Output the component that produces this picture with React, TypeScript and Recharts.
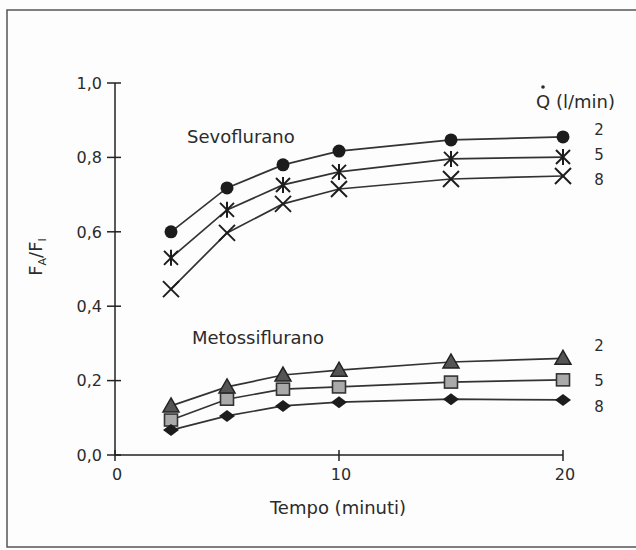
import React from "react";
import { LineChart, Line, XAxis, YAxis } from "recharts";

const times = [2.5, 5, 7.5, 10, 15, 20];
const sevo2 = [0.6, 0.718, 0.78, 0.817, 0.847, 0.855];
const sevo5 = [0.53, 0.659, 0.726, 0.761, 0.796, 0.801];
const sevo8 = [0.446, 0.597, 0.675, 0.715, 0.742, 0.75];
const meto2 = [0.132, 0.183, 0.215, 0.228, 0.25, 0.26];
const meto5 = [0.094, 0.15, 0.177, 0.183, 0.196, 0.202];
const meto8 = [0.067, 0.105, 0.132, 0.142, 0.15, 0.148];
const xTicks = [0, 10, 20];
const yTicks = [0, 0.2, 0.4, 0.6, 0.8, 1.0];
const flowLabels = ["2", "5", "8"];

const data = times.map((t, i) => ({
  t,
  s2: sevo2[i],
  s5: sevo5[i],
  s8: sevo8[i],
  m2: meto2[i],
  m5: meto5[i],
  m8: meto8[i],
}));

const FONT = "'DejaVu Sans', 'Liberation Sans', Arial, sans-serif";
const INK = "#2b2b2b";
const LINE = "#333";

const CircleDot = (p: any) => (
  <circle key={p.index} cx={p.cx} cy={p.cy} r={6.5} fill="#1c1c1c" />
);
const StarDot = (p: any) => {
  const s = 7;
  return (
    <g key={p.index} stroke="#1c1c1c" strokeWidth={2}>
      <line x1={p.cx - s} y1={p.cy - s} x2={p.cx + s} y2={p.cy + s} />
      <line x1={p.cx - s} y1={p.cy + s} x2={p.cx + s} y2={p.cy - s} />
      <line x1={p.cx} y1={p.cy - s - 1} x2={p.cx} y2={p.cy + s + 1} />
    </g>
  );
};
const CrossDot = (p: any) => {
  const s = 8;
  return (
    <g key={p.index} stroke="#1c1c1c" strokeWidth={2}>
      <line x1={p.cx - s} y1={p.cy - s} x2={p.cx + s} y2={p.cy + s} />
      <line x1={p.cx - s} y1={p.cy + s} x2={p.cx + s} y2={p.cy - s} />
    </g>
  );
};
const TriDot = (p: any) => {
  const w = 8;
  return (
    <polygon
      key={p.index}
      points={`${p.cx},${p.cy - 8} ${p.cx + w},${p.cy + 6} ${p.cx - w},${p.cy + 6}`}
      fill="#555"
      stroke="#222"
      strokeWidth={1.5}
    />
  );
};
const SquareDot = (p: any) => (
  <rect
    key={p.index}
    x={p.cx - 6.5}
    y={p.cy - 6}
    width={13}
    height={12}
    fill="#aaa"
    stroke="#333"
    strokeWidth={1.6}
  />
);
const DiamondDot = (p: any) => (
  <polygon
    key={p.index}
    points={`${p.cx},${p.cy - 6} ${p.cx + 8},${p.cy} ${p.cx},${p.cy + 6} ${p.cx - 8},${p.cy}`}
    fill="#1c1c1c"
  />
);

const YTick = (p: any) => {
  const { x, y, payload } = p;
  return (
    <g>
      <line x1={x - 8} y1={y} x2={x + 6} y2={y} stroke="#222" strokeWidth={1.5} />
      <text
        x={x - 13}
        y={y}
        dy="0.36em"
        textAnchor="end"
        fontFamily={FONT}
        fontSize={16}
        fill={INK}
      >
        {payload.value.toFixed(1).replace(".", ",")}
      </text>
    </g>
  );
};

const XTick = (p: any) => {
  const { x, y, payload } = p;
  return (
    <g>
      <line x1={x} y1={y - 5} x2={x} y2={y + 6} stroke="#222" strokeWidth={1.5} />
      <text
        x={x + 2}
        y={y + 25}
        textAnchor="middle"
        fontFamily={FONT}
        fontSize={16}
        fill={INK}
      >
        {String(payload.value)}
      </text>
    </g>
  );
};

export default function App() {
  const lineProps = {
    type: "linear" as const,
    stroke: LINE,
    strokeWidth: 1.7,
    isAnimationActive: false,
    activeDot: false as const,
  };
  return (
    <div
      style={{
        position: "absolute",
        left: 0,
        top: 0,
        width: 636,
        height: 550,
        background: "#fdfdfd",
      }}
    >
      <LineChart
        width={636}
        height={550}
        data={data}
        margin={{ top: 83, right: 73, bottom: 65, left: 55 }}
        style={{ overflow: "visible" }}
      >
        <XAxis
          dataKey="t"
          type="number"
          domain={[0, 20]}
          ticks={xTicks}
          height={30}
          tickSize={0}
          tickMargin={0}
          tickLine={false}
          axisLine={{ stroke: "#222", strokeWidth: 1.5 }}
          tick={XTick}
          interval={0}
        />
        <YAxis
          type="number"
          domain={[0, 1]}
          ticks={yTicks}
          width={60}
          tickSize={0}
          tickMargin={0}
          tickLine={false}
          axisLine={{ stroke: "#222", strokeWidth: 1.5 }}
          tick={YTick}
          interval={0}
        />
        <Line dataKey="s2" {...lineProps} dot={CircleDot} />
        <Line dataKey="s5" {...lineProps} dot={StarDot} />
        <Line dataKey="s8" {...lineProps} dot={CrossDot} />
        <Line dataKey="m2" {...lineProps} dot={TriDot} />
        <Line dataKey="m5" {...lineProps} dot={SquareDot} />
        <Line dataKey="m8" {...lineProps} dot={DiamondDot} />
      </LineChart>
      <svg
        width={636}
        height={550}
        style={{ position: "absolute", left: 0, top: 0, pointerEvents: "none" }}
      >
        <rect x={7} y={10} width={660} height={537} fill="none" stroke="#555" strokeWidth={1.5} />
        <g fontFamily={FONT} fill={INK}>
          <text x={187} y={143} fontSize={18}>Sevoflurano</text>
          <text x={192} y={344} fontSize={18}>Metossiflurano</text>
          <text x={536} y={108} fontSize={18}>Q (l/min)</text>
          <circle cx={543} cy={87} r={1.8} fill={INK} />
          <text x={599} y={135} fontSize={15} textAnchor="middle">{flowLabels[0]}</text>
          <text x={599} y={160} fontSize={15} textAnchor="middle">{flowLabels[1]}</text>
          <text x={599} y={185} fontSize={15} textAnchor="middle">{flowLabels[2]}</text>
          <text x={599} y={351} fontSize={15} textAnchor="middle">{flowLabels[0]}</text>
          <text x={599} y={386} fontSize={15} textAnchor="middle">{flowLabels[1]}</text>
          <text x={599} y={412} fontSize={15} textAnchor="middle">{flowLabels[2]}</text>
          <text x={338} y={514} fontSize={18} textAnchor="middle">Tempo (minuti)</text>
          <text
            transform="translate(42,257) rotate(-90)"
            fontSize={18}
            textAnchor="middle"
          >
            F<tspan fontSize={11} dy={4}>A</tspan>
            <tspan dy={-4}>/F</tspan>
            <tspan fontSize={11} dy={4}>I</tspan>
          </text>
        </g>
      </svg>
    </div>
  );
}
